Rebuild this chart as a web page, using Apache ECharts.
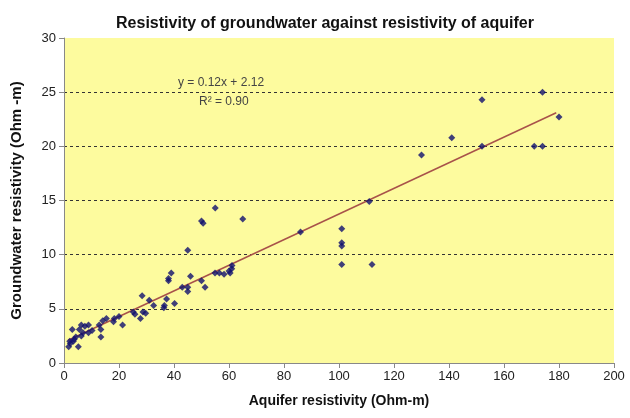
<!DOCTYPE html>
<html>
<head>
<meta charset="utf-8">
<script src="https://cdn.jsdelivr.net/npm/echarts@6/dist/echarts.min.js"></script>
<style>html,body{margin:0;padding:0;background:#fff;}#c{width:630px;height:418px;}</style>
</head>
<body>
<div id="c"></div>
<script>
var aquiferX = [174,152,180,141,152,171,174,130,111,86,101,101,101,101,112,55,50,50.6,65,45,39,38,38,46,43,45,45,50,51.3,54.9,56.5,58.2,60.4,61.1,61,60,40.2,37.3,36.3,36.5,32.6,31,28.4,28.7,29.7,27.8,25.8,25.2,21.3,20,18.3,18,15.4,14.1,12.8,13.4,13.4,10.2,8.9,7.6,6.3,5.6,6.9,8.9,6.3,3,4.3,3.4,2.3,1.7,5.2,3.7,2.1];
var groundwaterY = [25,24.3,22.7,20.8,20,20,20,19.2,14.9,12.1,12.4,11.1,10.8,9.1,9.1,14.3,13.1,12.9,13.3,10.4,8.3,7.8,7.6,8.0,7.0,7.0,6.6,7.6,7.0,8.3,8.3,8.2,8.3,9.0,8.7,8.5,5.5,5.9,5.1,5.3,5.3,5.8,6.2,4.7,4.6,4.1,4.5,4.7,3.5,4.3,4.1,3.8,4.1,3.9,3.5,2.4,3.1,3.0,3.5,3.4,3.5,3.1,2.8,2.8,2.5,3.1,2.4,2.0,1.8,1.5,1.5,2.2,2.0];
var trendX = [1.5, 179];
var trendY = [2.1, 23.1];
var xTicks = [0,20,40,60,80,100,120,140,160,180,200];
var yTicks = [0,5,10,15,20,25,30];

var pts = aquiferX.map(function(x,i){return [x, groundwaterY[i]];});
var line = trendX.map(function(x,i){return [x, trendY[i]];});

var chart = echarts.init(document.getElementById('c'));
chart.setOption({
  animation:false,
  backgroundColor:'#ffffff',
  title:{text:'Resistivity of groundwater against resistivity of aquifer',left:320,top:11,textAlign:'center',
    textStyle:{fontFamily:'Liberation Sans',fontSize:16,fontWeight:'bold',color:'#111'}},
  grid:{left:64,right:16,top:38,bottom:55,show:true,backgroundColor:'#fdfb9e',borderWidth:0},
  xAxis:{type:'value',min:0,max:200,interval:20,
    name:'Aquifer resistivity (Ohm-m)',nameLocation:'middle',nameGap:31,
    nameTextStyle:{fontFamily:'Liberation Sans',fontSize:14,fontWeight:'bold',color:'#111'},
    axisLine:{show:true,lineStyle:{color:'#888',width:1}},
    axisTick:{show:true,length:5,lineStyle:{color:'#888'}},
    axisLabel:{fontFamily:'Liberation Sans',fontSize:13,color:'#222',margin:7,
      formatter:function(v){return xTicks.indexOf(v)>=0?String(v):'';}},
    splitLine:{show:false}},
  yAxis:{type:'value',min:0,max:30,interval:5,
    name:'Groundwater resistivity (Ohm -m)',nameLocation:'middle',nameGap:40,
    nameTextStyle:{fontFamily:'Liberation Sans',fontSize:15,fontWeight:'bold',color:'#111'},
    axisLine:{show:true,lineStyle:{color:'#888',width:1}},
    axisTick:{show:true,length:5,lineStyle:{color:'#888'}},
    axisLabel:{fontFamily:'Liberation Sans',fontSize:13,color:'#222',margin:8,
      formatter:function(v){return yTicks.indexOf(v)>=0?String(v):'';}},
    splitLine:{show:true,showMaxLine:false,lineStyle:{color:'#333',type:[3,3],width:1}}},
  graphic:[
    {type:'text',left:178,top:77,style:{text:'y = 0.12x + 2.12',fontFamily:'Liberation Sans',fontSize:12,fill:'#444'}},
    {type:'text',left:199,top:96,style:{text:'R\u00b2 = 0.90',fontFamily:'Liberation Sans',fontSize:12,fill:'#444'}}
  ],
  series:[
    {type:'line',data:line,showSymbol:false,symbol:'none',lineStyle:{color:'#a8524a',width:1.5},z:2},
    {type:'scatter',data:pts,symbol:'diamond',symbolSize:7,itemStyle:{color:'#10106e'},z:3}
  ]
});
</script>
</body>
</html>
